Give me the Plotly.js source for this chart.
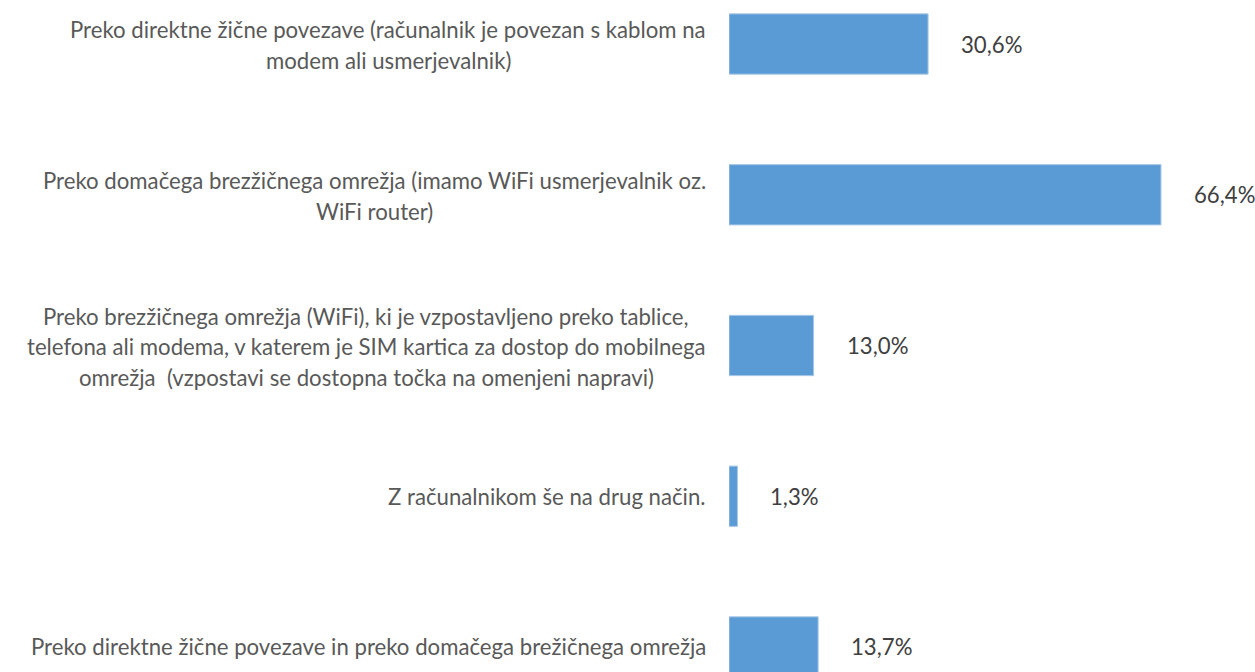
<!DOCTYPE html>
<html>
<head>
<meta charset="utf-8">
<script src="https://cdn.plot.ly/plotly-3.0.1.min.js"></script>
<style>html,body{margin:0;padding:0;background:#fff;}#chart{width:1255px;height:672px;}</style>
</head>
<body>
<div id="chart"></div>
<script>
// Category labels, each split into its printed lines
const categoryLines = [
  ["Preko direktne žične povezave (računalnik je povezan s kablom na", "modem ali usmerjevalnik)"],
  ["Preko domačega brezžičnega omrežja (imamo WiFi usmerjevalnik oz.", "WiFi router)"],
  ["Preko brezžičnega omrežja (WiFi), ki je vzpostavljeno preko tablice,", "telefona ali modema, v katerem je SIM kartica za dostop do mobilnega", "omrežja  (vzpostavi se dostopna točka na omenjeni napravi)"],
  ["Z računalnikom še na drug način."],
  ["Preko direktne žične povezave in preko domačega brežičnega omrežja"]
];
const values = [30.6, 66.4, 13.0, 1.3, 13.7];

const categories = categoryLines.map(l => l.join(" "));
const fontFam = "Lato, 'Liberation Sans', sans-serif";
const fontSize = 22.2;
const lineStep = 30.5;
const labelGap = 23;

const ctx = document.createElement('canvas').getContext('2d');
ctx.font = fontSize + "px Lato";
const textW = s => ctx.measureText(s).width;

const annotations = [];
categoryLines.forEach((lines, ci) => {
  const n = lines.length;
  const maxW = Math.max(...lines.map(textW));
  lines.forEach((line, li) => {
    annotations.push({
      xref: 'paper', x: 0, xanchor: 'center', xshift: -labelGap - maxW / 2,
      yref: 'y', y: categories[ci], yanchor: 'middle',
      yshift: ((n - 1) / 2 - li) * lineStep + (n > 1 ? -1 : 0),
      text: line, showarrow: false, align: 'center',
      font: {family: fontFam, size: fontSize, color: '#595959'}
    });
  });
});
values.forEach((v, i) => {
  annotations.push({
    xref: 'x', x: v, xanchor: 'left', xshift: 31,
    yref: 'y', y: categories[i], yanchor: 'middle',
    text: v.toFixed(1).replace('.', ',') + '%', showarrow: false,
    font: {family: fontFam, size: fontSize, color: '#404040'}
  });
});

const trace = {
  type: 'bar', orientation: 'h',
  x: values, y: categories,
  marker: {color: '#5B9BD5', line: {color: '#A9C8E8', width: 1}},
  hoverinfo: 'none'
};

const layout = {
  width: 1255, height: 672,
  margin: {l: 729, r: 0, t: 0, b: 0, pad: 0},
  paper_bgcolor: '#ffffff', plot_bgcolor: '#ffffff',
  bargap: 0.6,
  showlegend: false,
  xaxis: {range: [0, 80.85], visible: false, fixedrange: true},
  yaxis: {type: 'category', range: [4.166, -0.292], showticklabels: false, showgrid: false, zeroline: false, showline: false, ticks: '', fixedrange: true},
  annotations: annotations
};

Plotly.newPlot('chart', [trace], layout, {displayModeBar: false, staticPlot: true});
</script>
</body>
</html>
